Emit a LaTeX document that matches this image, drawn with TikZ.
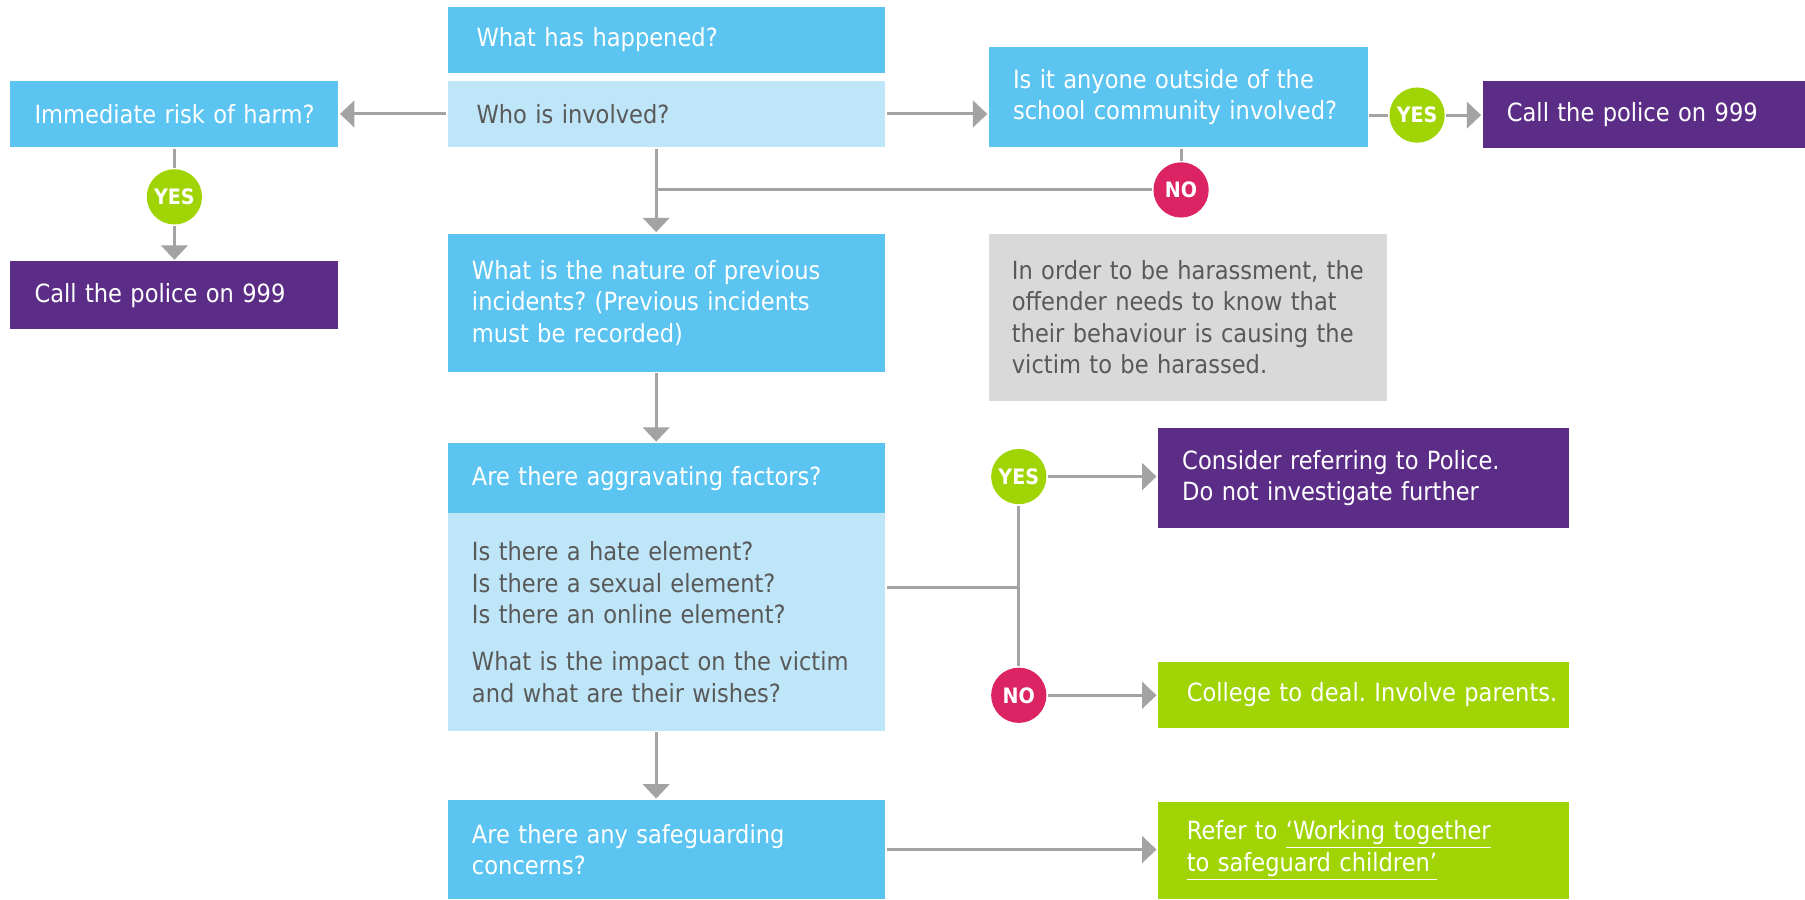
\documentclass[tikz,border=0pt]{standalone}
\usepackage{fontspec}
\setmainfont{DejaVu Sans}[FakeStretch=0.9]
\usepackage{tikz}
\usetikzlibrary{shapes.geometric,arrows.meta,calc,positioning}
\frenchspacing
\definecolor{qblue}{HTML}{5BC4F1}
\definecolor{qlight}{HTML}{BEE6F8}
\definecolor{qpurple}{HTML}{5C2D87}
\definecolor{qgreen}{HTML}{A0D404}
\definecolor{qpink}{HTML}{DC2364}
\definecolor{qgrey}{HTML}{D9D9D9}
\definecolor{qtext}{HTML}{595959}
\definecolor{qline}{HTML}{A3A3A3}
\tikzset{
  qbox/.style={rectangle, inner xsep=0.42cm, align=left, font=\fontsize{12.4}{15.6}\selectfont},
  choice/.style={circle, minimum size=0.96cm, inner sep=0pt, text=white, font=\bfseries\fontsize{10.5}{12}\selectfont},
}
\begin{document}
\begin{tikzpicture}[>={Triangle[length=0.25cm,width=0.46cm]}, line width=1.5pt]
\useasboundingbox (0,0) rectangle (31.36,15.62);
   \begin{scope}[every node/.style={qbox,fill=qblue,text=white}]
    \node (hap) [text width=6.6cm, inner xsep=0.5cm, minimum height=1.14cm] at (11.58,14.93) {What has happened?};
    \node (who) [fill=qlight, text=qtext, text width=6.6cm, inner xsep=0.5cm, minimum height=1.16cm] at (11.58,13.64) {Who is involved?};
    \node (risk) [text width=4.86cm, minimum height=1.16cm] at (3.03,13.64) {\mbox{Immediate risk of harm?}};
    \node (call1) [fill=qpurple, text width=4.86cm, minimum height=1.18cm] at (3.03,10.49) {Call the police on 999};
    \node (nature) [text width=6.76cm, minimum height=2.4cm] at (11.58,10.36) {What is the nature of previous\\ incidents? (Previous incidents\\ must be recorded)};
    \node (outside) [text width=5.74cm, minimum height=1.74cm] at (20.47,13.93) {Is it anyone outside of the\\ school community involved?};
    \node (call2) [fill=qpurple, text width=4.76cm, minimum height=1.18cm] at (28.56,13.63) {Call the police on 999};
    \node (note) [fill=qgrey, text=qtext, text width=6.12cm, inner xsep=0.4cm, minimum height=2.9cm] at (20.64,10.11) {In order to be harassment, the\\ offender needs to know that\\ their behaviour is causing the\\ victim to be harassed.};
    \node (aggr) [text width=6.76cm, minimum height=1.22cm] at (11.58,7.31) {Are there aggravating factors?};
    \node (detail) [fill=qlight, text=qtext, text width=6.76cm, minimum height=3.78cm] at (11.58,4.81) {Is there a hate element?\\ Is there a sexual element?\\ Is there an online element?\\[0.27cm] What is the impact on the victim\\ and what are their wishes?};
    \node (consider) [fill=qpurple, text width=6.3cm, minimum height=1.74cm] at (23.69,7.31) {Consider referring to Police.\\ Do not investigate further};
    \node (college) [fill=qgreen, text width=6.14cm, inner xsep=0.5cm, minimum height=1.14cm] at (23.69,3.55) {\mbox{College to deal. Involve parents.}};
    \node (safe) [text width=6.76cm, minimum height=1.72cm] at (11.58,0.86) {Are there any safeguarding\\ concerns?};
    \node (refer) [fill=qgreen, text width=6.14cm, inner xsep=0.5cm, minimum height=1.68cm] at (23.69,0.84) {Refer to \underline{‘Working together}\\ \underline{to safeguard children’}};
   \end{scope}
   \node (yes1) [choice, fill=qgreen] at (3.03,12.2) {YES};
   \node (yes2) [choice, fill=qgreen] at (24.62,13.62) {YES};
   \node (yes3) [choice, fill=qgreen] at (17.7,7.34) {YES};
   \node (no1) [choice, fill=qpink] at (20.52,12.32) {NO};
   \node (no2) [choice, fill=qpink] at (17.7,3.54) {NO};
   \coordinate (fork) at (11.4,12.32);
   \coordinate (split) at (17.7,5.42);
   \begin{scope}[->, draw=qline]
    \draw (who) -- (risk);
    \draw (who.east) -- (who.east -| outside.west);
    \draw [-] (risk) -- (yes1);
    \draw (yes1) -- (call1);
    \draw [-] (yes2 -| outside.east) -- (yes2);
    \draw (yes2) -- (yes2 -| call2.west);
    \draw (who.south -| fork) -- (nature.north -| fork);
    \draw [-] (fork) -- (no1);
    \draw [-] (no1) -- (no1 |- outside.south);
    \draw (nature.south -| fork) -- (aggr.north -| fork);
    \draw [-] (split -| detail.east) -- (split);
    \draw [-] (yes3) -- (no2);
    \draw (yes3) -- (yes3 -| consider.west);
    \draw (no2) -- (no2 -| college.west);
    \draw (detail.south -| fork) -- (safe.north -| fork);
    \draw (safe.east) -- (safe.east -| refer.west);
   \end{scope}
\end{tikzpicture}
\end{document}
